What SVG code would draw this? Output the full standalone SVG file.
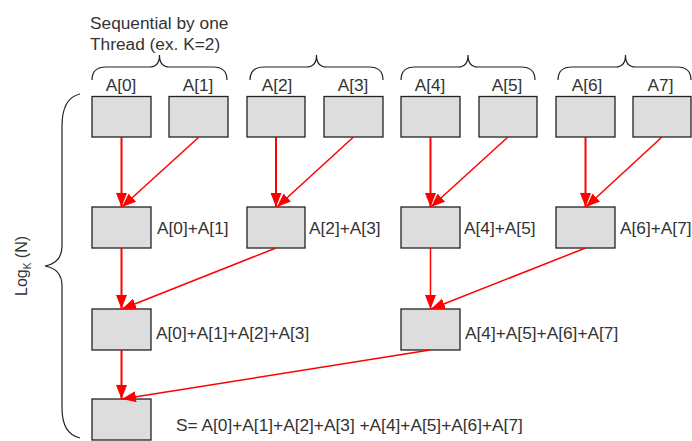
<svg xmlns="http://www.w3.org/2000/svg" width="692" height="441" viewBox="0 0 692 441">
<style>
  .box { fill: #dddddd; stroke: #222222; stroke-width: 1.3; }
  .lbl { font-family: "Liberation Sans", Arial, sans-serif; font-size: 17.3px; fill: #333333; }
  .mid { text-anchor: middle; }
  .brace { fill: none; stroke: #222222; stroke-width: 1.2; }
  .arr { stroke: #ff0000; fill: none; marker-end: url(#ah); }
  .thick { stroke-width: 2; }
  .thin { stroke-width: 1.5; }
</style>
<defs>
  <marker id="ah" markerUnits="userSpaceOnUse" markerWidth="14" markerHeight="11" refX="14" refY="5.5" orient="auto" viewBox="0 0 14 11">
    <path d="M0,0 L14,5.5 L0,11 z" fill="#ff0000"/>
  </marker>
</defs>
<rect width="692" height="441" fill="#ffffff"/>

<g id="title">
  <text class="lbl" x="90" y="29">Sequential by one</text>
  <text class="lbl" x="90" y="50">Thread (ex. K=2)</text>
</g>

<g id="braces">
  <path class="brace" d="M92,80 Q92,67 106,67 L149.5,67 Q159.5,67 159.5,55 Q159.5,67 169.5,67 L213,67 Q227,67 227,80"/>
  <path class="brace" d="M250,80 Q250,67 264,67 L306.5,67 Q316.5,67 316.5,55 Q316.5,67 326.5,67 L369,67 Q383,67 383,80"/>
  <path class="brace" d="M401,80 Q401,67 415,67 L458,67 Q468,67 468,55 Q468,67 478,67 L521,67 Q535,67 535,80"/>
  <path class="brace" d="M558,80 Q558,67 572,67 L615.5,67 Q625.5,67 625.5,55 Q625.5,67 635.5,67 L677,67 Q691,67 691,80"/>
  <path class="brace" d="M80,94 Q62,98 62,126 L62,246 Q62,263 45,266 Q62,269 62,286 L62,408 Q62,434 80,438"/>
</g>

<g id="logk">
  <text class="lbl" transform="translate(27,266) rotate(-90)" text-anchor="middle" style="font-size:16px">Log<tspan font-size="10" dy="4">K</tspan><tspan dy="-4"> (N)</tspan></text>
</g>

<g id="n0"><rect class="box" x="92" y="96.5" width="59" height="40.5"/><text class="lbl mid" x="121" y="90.7">A[0]</text></g>
<g id="n1"><rect class="box" x="169" y="96.5" width="59" height="40.5"/><text class="lbl mid" x="198" y="90.7">A[1]</text></g>
<g id="n2"><rect class="box" x="247" y="96.5" width="58" height="40.5"/><text class="lbl mid" x="277" y="90.7">A[2]</text></g>
<g id="n3"><rect class="box" x="324" y="96.5" width="59" height="40.5"/><text class="lbl mid" x="353" y="90.7">A[3]</text></g>
<g id="n4"><rect class="box" x="401" y="96.5" width="59" height="40.5"/><text class="lbl mid" x="430" y="90.7">A[4]</text></g>
<g id="n5"><rect class="box" x="479" y="96.5" width="58" height="40.5"/><text class="lbl mid" x="507" y="90.7">A[5]</text></g>
<g id="n6"><rect class="box" x="556" y="96.5" width="59" height="40.5"/><text class="lbl mid" x="587" y="90.7">A[6]</text></g>
<g id="n7"><rect class="box" x="633" y="96.5" width="58" height="40.5"/><text class="lbl mid" x="660.5" y="90.7">A7]</text></g>

<g id="s01"><rect class="box" x="92" y="207" width="59" height="41"/><text class="lbl" x="157" y="234">A[0]+A[1]</text></g>
<g id="s23"><rect class="box" x="247" y="207" width="58" height="41"/><text class="lbl" x="309" y="234">A[2]+A[3]</text></g>
<g id="s45"><rect class="box" x="401" y="207" width="59" height="41"/><text class="lbl" x="464" y="234">A[4]+A[5]</text></g>
<g id="s67"><rect class="box" x="556" y="207" width="59" height="41"/><text class="lbl" x="620" y="234">A[6]+A[7]</text></g>

<g id="s0123"><rect class="box" x="92" y="309" width="59" height="41"/><text class="lbl" x="156" y="339">A[0]+A[1]+A[2]+A[3]</text></g>
<g id="s4567"><rect class="box" x="401" y="309" width="59" height="41"/><text class="lbl" x="465" y="339">A[4]+A[5]+A[6]+A[7]</text></g>

<g id="sall"><rect class="box" x="92" y="399" width="59" height="41"/><text class="lbl" x="176" y="430.5">S= A[0]+A[1]+A[2]+A[3] +A[4]+A[5]+A[6]+A[7]</text></g>

<g id="connectors">
  <line class="arr thick" x1="121.5" y1="137" x2="121.5" y2="207"/>
  <line class="arr thin" x1="199" y1="137" x2="122" y2="207"/>
  <line class="arr thick" x1="276" y1="137" x2="276" y2="207"/>
  <line class="arr thin" x1="353.5" y1="137" x2="277" y2="207"/>
  <line class="arr thick" x1="430.5" y1="137" x2="430.5" y2="207"/>
  <line class="arr thin" x1="508" y1="137" x2="431" y2="207"/>
  <line class="arr thick" x1="585.5" y1="137" x2="585.5" y2="207"/>
  <line class="arr thin" x1="662" y1="137" x2="586" y2="207"/>

  <line class="arr thick" x1="121.5" y1="248" x2="121.5" y2="309"/>
  <line class="arr thin" x1="276" y1="248" x2="122" y2="309"/>
  <line class="arr thin" x1="430.5" y1="248" x2="430.5" y2="309"/>
  <line class="arr thin" x1="585.5" y1="248" x2="431" y2="309"/>

  <line class="arr thick" x1="121.5" y1="350" x2="121.5" y2="399"/>
  <line class="arr thin" x1="430" y1="350" x2="122" y2="399"/>
</g>
</svg>
